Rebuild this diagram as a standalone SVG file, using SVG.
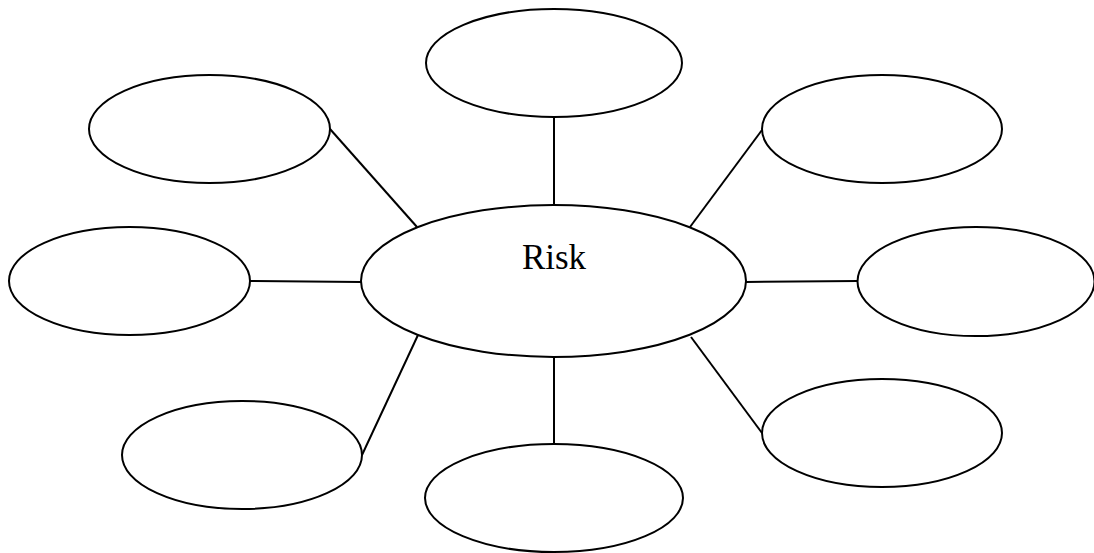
<svg xmlns="http://www.w3.org/2000/svg" width="1094" height="553" viewBox="0 0 1094 553">
<style>
ellipse{fill:#fff;stroke:#000;stroke-width:2}
line{stroke:#000;stroke-width:2}
text{font-family:"Liberation Serif","Times New Roman",serif;font-size:35px;fill:#000}
</style>
<rect width="1094" height="553" fill="#fff"/>
<g id="connectors">
<line x1="554" y1="117" x2="554" y2="205"/>
<line x1="330" y1="129" x2="417" y2="227"/>
<line x1="762" y1="130" x2="690" y2="227"/>
<line x1="250" y1="281" x2="361" y2="282"/>
<line x1="746" y1="282" x2="858" y2="281"/>
<line x1="418" y1="335" x2="362" y2="455"/>
<line x1="554" y1="357" x2="554" y2="444"/>
<line x1="691" y1="337" x2="762" y2="433"/>
</g>
<g id="center"><ellipse cx="553.5" cy="281" rx="192.5" ry="76"/><text x="554" y="269" text-anchor="middle">Risk</text></g>
<g id="top"><ellipse cx="554" cy="63" rx="128" ry="54"/></g>
<g id="topleft"><ellipse cx="209.5" cy="129" rx="120.5" ry="54"/></g>
<g id="topright"><ellipse cx="882" cy="129" rx="120" ry="54"/></g>
<g id="left"><ellipse cx="129.5" cy="281" rx="120.5" ry="54"/></g>
<g id="right"><ellipse cx="976" cy="281.5" rx="118.5" ry="54.5"/></g>
<g id="bottomleft"><ellipse cx="242" cy="455" rx="120" ry="54"/></g>
<g id="bottom"><ellipse cx="554" cy="498" rx="129" ry="54"/></g>
<g id="bottomright"><ellipse cx="882" cy="433" rx="120" ry="54"/></g>
</svg>
